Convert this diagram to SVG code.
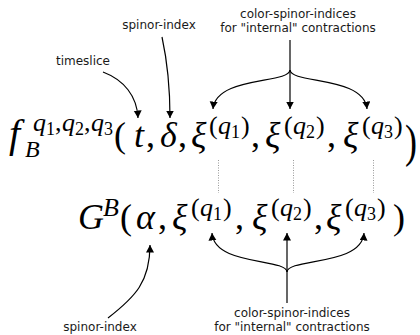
<svg xmlns="http://www.w3.org/2000/svg" width="420" height="335" viewBox="0 0 420 335">
<style>
.m{font-family:"Liberation Serif","DejaVu Serif",serif;font-style:italic;fill:#000}
.r{font-family:"Liberation Serif","DejaVu Serif",serif;fill:#000}
.lbl{font-family:"DejaVu Sans","Liberation Sans",sans-serif;font-size:12px;fill:#1a1a1a;text-anchor:middle}
.big{font-size:36px}
.sup{font-size:26px}
.ss{font-size:18px}
.arr{fill:none;stroke:#000;stroke-width:1.2}
.dot{fill:none;stroke:#999;stroke-width:1;stroke-dasharray:1 1.5}
</style>
<defs>
<marker id="ah" markerUnits="userSpaceOnUse" markerWidth="9" markerHeight="9" refX="7.5" refY="4" orient="auto">
<path d="M0,0 L7.5,4 L0,8 z" fill="#000"/>
</marker>
</defs>

<g id="formula-f">
<text class="m" style="font-size:40px" x="9" y="147">f</text>
<text class="m" style="font-size:24px" x="25" y="157">B</text>
<text class="m sup" x="33" y="131">q</text><text class="r ss" x="46" y="135">1</text>
<text class="r sup" x="55" y="131">,</text>
<text class="m sup" x="62" y="131">q</text><text class="r ss" x="75" y="135">2</text>
<text class="r sup" x="84" y="131">,</text>
<text class="m sup" x="91" y="131">q</text><text class="r ss" x="104" y="135">3</text>
<text class="r big" x="114" y="147">(</text>
<text class="m big" x="134" y="147">t</text>
<text class="r big" x="146" y="147">,</text>
<text class="m big" x="160" y="147">δ</text>
<text class="r big" x="178" y="147">,</text>
<text class="m big" x="191" y="147">ξ</text>
<text class="r sup" x="209" y="134">(</text><text class="m sup" x="218" y="134">q</text><text class="r ss" x="231" y="138">1</text><text class="r sup" x="241" y="134">)</text>
<text class="r big" x="251" y="147">,</text>
<text class="m big" x="265" y="147">ξ</text>
<text class="r sup" x="284" y="134">(</text><text class="m sup" x="293" y="134">q</text><text class="r ss" x="306" y="138">2</text><text class="r sup" x="316" y="134">)</text>
<text class="r big" x="327" y="147">,</text>
<text class="m big" x="343" y="147">ξ</text>
<text class="r sup" x="362" y="134">(</text><text class="m sup" x="371" y="134">q</text><text class="r ss" x="384" y="138">3</text><text class="r sup" x="394" y="134">)</text>
<text class="r big" transform="translate(405,157) scale(1,1.3)">)</text>
</g>

<g id="formula-G">
<text class="m big" x="78" y="229">G</text>
<text class="m sup" x="103" y="216">B</text>
<text class="r big" x="120" y="229">(</text>
<text class="m big" x="136" y="229">α</text>
<text class="r big" x="158" y="229">,</text>
<text class="m big" x="172" y="229">ξ</text>
<text class="r sup" x="191" y="216">(</text><text class="m sup" x="200" y="216">q</text><text class="r ss" x="213" y="220">1</text><text class="r sup" x="223" y="216">)</text>
<text class="r big" x="235" y="229">,</text>
<text class="m big" x="252" y="229">ξ</text>
<text class="r sup" x="271" y="216">(</text><text class="m sup" x="280" y="216">q</text><text class="r ss" x="293" y="220">2</text><text class="r sup" x="303" y="216">)</text>
<text class="r big" x="314" y="229">,</text>
<text class="m big" x="326" y="229">ξ</text>
<text class="r sup" x="345" y="216">(</text><text class="m sup" x="354" y="216">q</text><text class="r ss" x="367" y="220">3</text><text class="r sup" x="377" y="216">)</text>
<text class="r big" x="393" y="229">)</text>
</g>

<g id="label-timeslice"><text class="lbl" x="83" y="65">timeslice</text></g>
<g id="label-spinor-top"><text class="lbl" x="159" y="29">spinor-index</text></g>
<g id="label-color-top"><text class="lbl" x="298" y="18">color-spinor-indices</text><text class="lbl" x="298" y="32">for "internal" contractions</text></g>
<g id="label-spinor-bottom"><text class="lbl" x="100" y="331">spinor-index</text></g>
<g id="label-color-bottom"><text class="lbl" x="292" y="317">color-spinor-indices</text><text class="lbl" x="292" y="331">for "internal" contractions</text></g>

<g id="connectors">
<path class="arr" d="M103,72 C124,80 137,96 138,118" marker-end="url(#ah)"/>
<path class="arr" d="M162,37 C167,60 170,85 170,118" marker-end="url(#ah)"/>
<path class="arr" d="M290,40 L290,109" marker-end="url(#ah)"/>
<path class="arr" d="M290,70 C289,84 216,76 213,109" marker-end="url(#ah)"/>
<path class="arr" d="M290,70 C291,84 364,76 367,109" marker-end="url(#ah)"/>
<path class="arr" d="M108,318 C135,297 150,282 150,245" marker-end="url(#ah)"/>
<path class="arr" d="M287,303 L287,233" marker-end="url(#ah)"/>
<path class="arr" d="M287,272 C286,258 214,266 212,233" marker-end="url(#ah)"/>
<path class="arr" d="M287,272 C288,258 362,266 364,233" marker-end="url(#ah)"/>
<path class="dot" d="M218.5,160 V193 M293.5,160 V193 M373.5,160 V193"/>
</g>
</svg>
